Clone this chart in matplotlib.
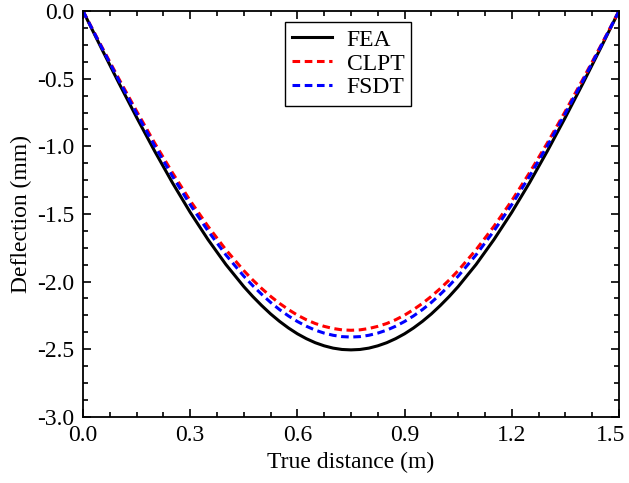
import numpy as np
import matplotlib
matplotlib.use("Agg")
import matplotlib.pyplot as plt
import matplotlib.transforms as mtransforms
from matplotlib.ticker import MultipleLocator, FormatStrFormatter

plt.rcParams['font.family'] = ['Liberation Serif', 'DejaVu Serif']
plt.rcParams['axes.unicode_minus'] = False

# Deflection along the plate
distance = [0.00, 0.05, 0.10, 0.15, 0.20, 0.25, 0.30, 0.35, 0.40, 0.45, 0.475,
            0.50, 0.525, 0.55, 0.575, 0.60, 0.625, 0.65, 0.675, 0.70, 0.725,
            0.75, 0.775, 0.80, 0.825, 0.85, 0.875, 0.90, 0.925, 0.95, 0.975,
            1.00, 1.025, 1.05, 1.10, 1.15, 1.20, 1.25, 1.30, 1.35, 1.40, 1.45, 1.50]
fea = [0.000, -0.267, -0.530, -0.786, -1.033, -1.268, -1.488, -1.690, -1.874, -2.037, -2.110,
       -2.177, -2.239, -2.294, -2.343, -2.386, -2.422, -2.452, -2.475, -2.492, -2.502,
       -2.505, -2.502, -2.492, -2.475, -2.452, -2.422, -2.386, -2.343, -2.294, -2.239,
       -2.177, -2.110, -2.037, -1.874, -1.690, -1.488, -1.268, -1.033, -0.786, -0.530, -0.267, 0.000]
clpt = [0.000, -0.252, -0.499, -0.740, -0.973, -1.194, -1.402, -1.592, -1.765, -1.919, -1.988,
        -2.051, -2.109, -2.161, -2.207, -2.248, -2.282, -2.310, -2.331, -2.347, -2.357,
        -2.360, -2.357, -2.347, -2.331, -2.310, -2.282, -2.248, -2.207, -2.161, -2.109,
        -2.051, -1.988, -1.919, -1.765, -1.592, -1.402, -1.194, -0.973, -0.740, -0.499, -0.252, 0.000]
fsdt = [0.000, -0.257, -0.510, -0.756, -0.994, -1.220, -1.431, -1.626, -1.803, -1.960, -2.030,
        -2.094, -2.154, -2.207, -2.254, -2.295, -2.330, -2.359, -2.381, -2.397, -2.407,
        -2.410, -2.407, -2.397, -2.381, -2.359, -2.330, -2.295, -2.254, -2.207, -2.154,
        -2.094, -2.030, -1.960, -1.803, -1.626, -1.431, -1.220, -0.994, -0.756, -0.510, -0.257, 0.000]

xticks = [0.0, 0.3, 0.6, 0.9, 1.2, 1.5]

fig = plt.figure(figsize=(6.29, 4.83), dpi=100)
ax = fig.add_axes([0.132, 0.137, 0.852, 0.840])

ax.plot(distance, fea, color='black', lw=2.2, label='FEA')
ax.plot(distance, clpt, color='red', lw=2.2, dashes=(2.5, 1.5), label='CLPT')
ax.plot(distance, fsdt, color='blue', lw=2.2, dashes=(2.5, 1.5), label='FSDT')

ax.set_xlim(0, 1.5)
ax.set_ylim(-3.0, 0.0)
ax.set_xticks(xticks)
ax.xaxis.set_minor_locator(MultipleLocator(0.075))
ax.yaxis.set_major_locator(MultipleLocator(0.5))
ax.yaxis.set_minor_locator(MultipleLocator(0.125))
ax.xaxis.set_major_formatter(FormatStrFormatter('%.1f'))
ax.yaxis.set_major_formatter(FormatStrFormatter('%.1f'))

ax.tick_params(which='both', direction='in', top=True, right=True, width=1.2)
ax.tick_params(which='major', length=6, labelsize=17, pad=6)
ax.tick_params(which='minor', length=3.6)
for s in ax.spines.values():
    s.set_linewidth(1.3)

# last x label sits against the figure edge, nudge it left a bit
last = ax.xaxis.get_major_ticks()[-1].label1
last.set_transform(last.get_transform() + mtransforms.ScaledTranslation(-8 / 100, 0, fig.dpi_scale_trans))

ax.set_xlabel('True distance (m)', fontsize=17)
ax.set_ylabel('Deflection (mm)', fontsize=17)

leg = ax.legend(loc='upper center', bbox_to_anchor=(0.495, 0.973), fontsize=17,
                frameon=True, fancybox=False, edgecolor='black', framealpha=1,
                handlelength=1.7, borderaxespad=0, labelspacing=0.1,
                borderpad=0.3, handletextpad=0.6)
leg.get_frame().set_linewidth(1.0)

fig.savefig('out.png', dpi=100)
